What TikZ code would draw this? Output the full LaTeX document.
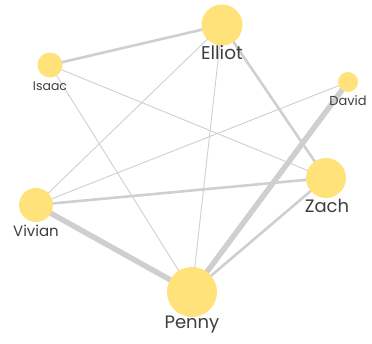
\documentclass[tikz,border=0pt]{standalone}
\usepackage{fontspec}
\setmainfont{Poppins}
\usetikzlibrary{backgrounds}
\definecolor{nodefill}{HTML}{FFE27A}
\definecolor{edgegray}{HTML}{CFCFCF}
\definecolor{labeltext}{HTML}{3E3E3E}
\tikzset{
  person/.style={circle, fill=nodefill, draw=none, inner sep=0pt, minimum size=#1},
  personname/.style={text=labeltext, inner sep=0pt, font=\fontsize{#1}{#1}\selectfont},
  thin link/.style={draw=edgegray, line width=0.9pt},
  mid link/.style={draw=edgegray, line width=2.6pt},
  heavy link/.style={draw=edgegray, line width=5.5pt},
}
\begin{document}
\begin{tikzpicture}[x=1pt, y=-1pt]
\useasboundingbox (0,0) rectangle (372,344);

% people
\node[person=41pt] (elliot) at (222,25) {};
\node[person=25pt] (isaac)  at (50,65) {};
\node[person=20pt] (david)  at (348,82) {};
\node[person=40pt] (zach)   at (326,178) {};
\node[person=34pt] (vivian) at (36,205) {};
\node[person=50pt] (penny)  at (192,292) {};

% names
\node[personname=18.5] (elliotL) at (222,53) {Elliot};
\node[personname=12.5] (isaacL)  at (50,86) {Isaac};
\node[personname=13]   (davidL)  at (348,101) {David};
\node[personname=18]   (zachL)   at (327,206) {Zach};
\node[personname=15]   (vivianL) at (36,231) {Vivian};
\node[personname=18]   (pennyL)  at (192,325) {Penny};

% links, drawn beneath the circles
\begin{scope}[on background layer]
\draw[mid link]   (isaac.center)  -- (elliot.center);
\draw[mid link]   (elliot.center) -- (zach.center);
\draw[thin link]  (elliot.center) -- (vivian.center);
\draw[thin link]  (elliot.center) -- (penny.center);
\draw[thin link]  (isaac.center)  -- (zach.center);
\draw[thin link]  (isaac.center)  -- (penny.center);
\draw[thin link]  (david.center)  -- (vivian.center);
\draw[heavy link] (david.center)  -- (penny.center);
\draw[mid link]   (vivian.center) -- (zach.center);
\draw[heavy link] (vivian.center) -- (penny.center);
\draw[mid link]   (zach.center)   -- (penny.center);
\end{scope}
\end{tikzpicture}
\end{document}
